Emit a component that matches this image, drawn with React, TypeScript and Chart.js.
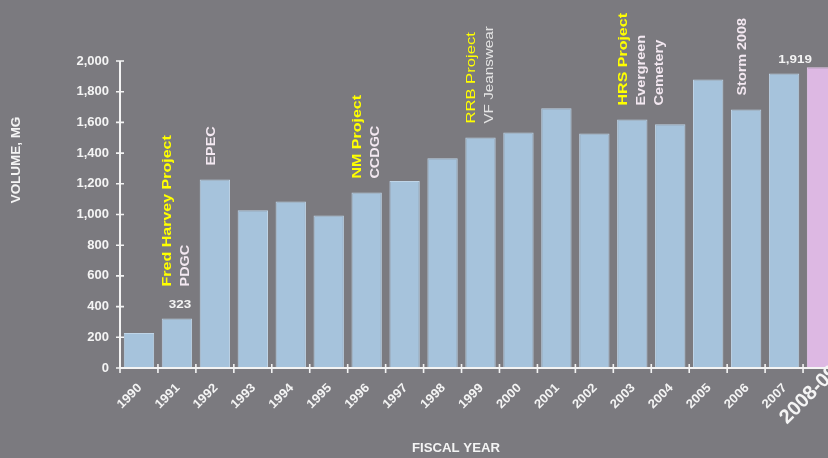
import React, { useEffect, useRef } from 'react';
import { Chart, registerables } from 'chart.js';

Chart.register(...registerables);

// ---------- data ----------
const categories = [
  '1990', '1991', '1992', '1993', '1994', '1995', '1996', '1997', '1998', '1999',
  '2000', '2001', '2002', '2003', '2004', '2005', '2006', '2007', '2008-09',
];
const volumes = [228, 323, 1228, 1028, 1085, 994, 1143, 1219, 1367, 1501, 1534, 1692, 1527, 1619, 1588, 1879, 1684, 1919, 1960];
const yMin = 0;
const yMax = 2000;
const yStep = 200;
const highlightedCategory = '2008-09';
const valueLabelCategories = ['1991', '2007'];
const annotationCategories = ['1991', '1992', '1996', '1999', '2003', '2006'];
const projectNames = ['Fred Harvey Project', '', 'NM Project', 'RRB Project', 'HRS Project', ''];
const clientNames = [['PDGC'], ['EPEC'], ['CCDGC'], ['VF Jeanswear'], ['Evergreen', 'Cemetery'], ['Storm 2008']];
const yAxisTitle = 'VOLUME, MG';
const xAxisTitle = 'FISCAL YEAR';

// ---------- styles ----------
const FONT = '"Liberation Sans", Arial, sans-serif';
const BG = '#7b7a7f';
const BAR = '#a6c3dc';
const BAR_BORDER = '#bfd5e8';
const BAR_HI = '#ddb8e3';
const BAR_HI_BORDER = '#e8c8ec';
const AXIS = '#f4f4f4';
const TEXT = '#f4f4f4';
const YELLOW = '#ffff00';
const CLIENT = '#f3e8f1';
const CLIENT_REGULAR = '#e4e4e4';
const regularStyleCategories = ['1999'];
const valueLabelOffsets: Record<string, number> = { '1991': 3, '2007': 11 };

function drawText(
  ctx: CanvasRenderingContext2D,
  text: string,
  x: number,
  y: number,
  font: string,
  color: string,
  stretch: number,
  angle: number,
  align: CanvasTextAlign,
  baseline: CanvasTextBaseline,
) {
  ctx.save();
  ctx.translate(x, y);
  if (angle) ctx.rotate(angle);
  ctx.scale(stretch, 1);
  ctx.font = font;
  ctx.fillStyle = color;
  ctx.textAlign = align;
  ctx.textBaseline = baseline;
  ctx.fillText(text, 0, 0);
  ctx.restore();
}

const VERT = -Math.PI / 2;
const DIAG = -Math.PI / 4;

const overlayPlugin = {
  id: 'overlay',
  afterDraw(chart: any) {
    const { ctx, chartArea, scales } = chart;
    const xs = scales.x;
    const ys = scales.y;
    const left = chartArea.left;
    const bottom = ys.getPixelForValue(yMin);
    const top = ys.getPixelForValue(yMax);
    const n = categories.length;
    const catW = (xs.getPixelForValue(n - 1) - xs.getPixelForValue(0)) / (n - 1);

    ctx.save();
    ctx.strokeStyle = AXIS;
    ctx.lineWidth = 2;
    ctx.beginPath();
    ctx.moveTo(left, top);
    ctx.lineTo(left, bottom);
    ctx.moveTo(left, bottom);
    ctx.lineTo(chartArea.right, bottom);
    ctx.stroke();
    ctx.lineWidth = 1.6;
    ctx.beginPath();
    for (const t of ys.ticks) {
      const py = ys.getPixelForValue(t.value);
      ctx.moveTo(left - 4, py);
      ctx.lineTo(left + 4, py);
    }
    for (let i = 0; i <= n; i++) {
      const px = xs.getPixelForValue(0) - catW / 2 + i * catW;
      ctx.moveTo(px, bottom - 4);
      ctx.lineTo(px, bottom + 5);
    }
    ctx.stroke();
    ctx.restore();

    // x category labels (rotated)
    categories.forEach((cat, i) => {
      const px = xs.getPixelForValue(i);
      if (cat === highlightedCategory) {
        drawText(ctx, cat, px + 13, bottom + 1, `bold 20px ${FONT}`, TEXT, 1, DIAG, 'right', 'middle');
      } else {
        drawText(ctx, cat, px + 1, bottom + 18, `bold 12.5px ${FONT}`, TEXT, 1.05, DIAG, 'right', 'middle');
      }
    });

    // axis titles
    drawText(ctx, yAxisTitle, 17, 160, `bold 12px ${FONT}`, TEXT, 1.12, VERT, 'center', 'middle');
    drawText(ctx, xAxisTitle, 456, 449, `bold 12px ${FONT}`, TEXT, 1.1, 0, 'center', 'middle');

    // value labels
    for (const cat of valueLabelCategories) {
      const ci = categories.indexOf(cat);
      const cx = xs.getPixelForValue(ci);
      const ty = ys.getPixelForValue(volumes[ci]);
      drawText(ctx, volumes[ci].toLocaleString('en-US'), cx + (valueLabelOffsets[cat] || 0), ty - 13, `bold 11px ${FONT}`, TEXT, 1.22, 0, 'center', 'middle');
    }

    // annotations
    annotationCategories.forEach((cat, i) => {
      const ci = categories.indexOf(cat);
      const cx = xs.getPixelForValue(ci);
      const barTop = ys.getPixelForValue(volumes[ci]);
      const base = barTop - 14 - (valueLabelCategories.includes(cat) ? 18 : 0);
      const regular = regularStyleCategories.includes(cat);
      const project = projectNames[i];
      let colX = project ? cx - 9 : cx - 3;
      if (project) {
        drawText(
          ctx, project, colX, base,
          regular ? `12.5px ${FONT}` : `bold 12.5px ${FONT}`,
          YELLOW, regular ? 1.33 : 1.28, VERT, 'left', 'middle',
        );
        colX += 18;
      }
      for (const c of clientNames[i]) {
        drawText(
          ctx, c, colX, base,
          regular ? `12.5px ${FONT}` : `bold 12px ${FONT}`,
          regular ? CLIENT_REGULAR : CLIENT, regular ? 1.22 : 1.2, VERT, 'left', 'middle',
        );
        colX += 18;
      }
    });
  },
};

export default function App() {
  const canvasRef = useRef<HTMLCanvasElement | null>(null);

  useEffect(() => {
    if (!canvasRef.current) return;
    const chart = new Chart(canvasRef.current, {
      type: 'bar',
      data: {
        labels: categories,
        datasets: [
          {
            data: volumes,
            backgroundColor: categories.map((c) => (c === highlightedCategory ? BAR_HI : BAR)),
            borderColor: categories.map((c) => (c === highlightedCategory ? BAR_HI_BORDER : BAR_BORDER)),
            borderWidth: 1,
            barPercentage: 0.8,
            categoryPercentage: 1,
          },
        ],
      },
      options: {
        animation: false,
        responsive: false,
        locale: 'en-US',
        layout: { padding: { top: 61, right: 0, bottom: 0, left: 0 } },
        plugins: {
          legend: { display: false },
          tooltip: { enabled: false },
          title: { display: false },
        },
        scales: {
          x: {
            grid: { display: false, drawTicks: false },
            border: { display: false },
            ticks: { display: false, autoSkip: false },
            afterFit: (s: any) => {
              s.height = 90;
            },
          },
          y: {
            min: yMin,
            max: yMax,
            grid: { display: false, drawTicks: false },
            border: { display: false },
            ticks: {
              stepSize: yStep,
              color: TEXT,
              padding: 11,
              font: { family: FONT, size: 13, weight: 'bold' },
            },
            afterFit: (s: any) => {
              s.width = 120;
            },
          },
        },
      },
      plugins: [overlayPlugin],
    });
    return () => chart.destroy();
  }, []);

  return (
    <div
      style={{
        position: 'absolute',
        left: 0,
        top: 0,
        width: 828,
        height: 458,
        overflow: 'hidden',
        background: BG,
      }}
    >
      <canvas ref={canvasRef} width={841} height={458} style={{ position: 'absolute', left: 0, top: 0 }} />
    </div>
  );
}
